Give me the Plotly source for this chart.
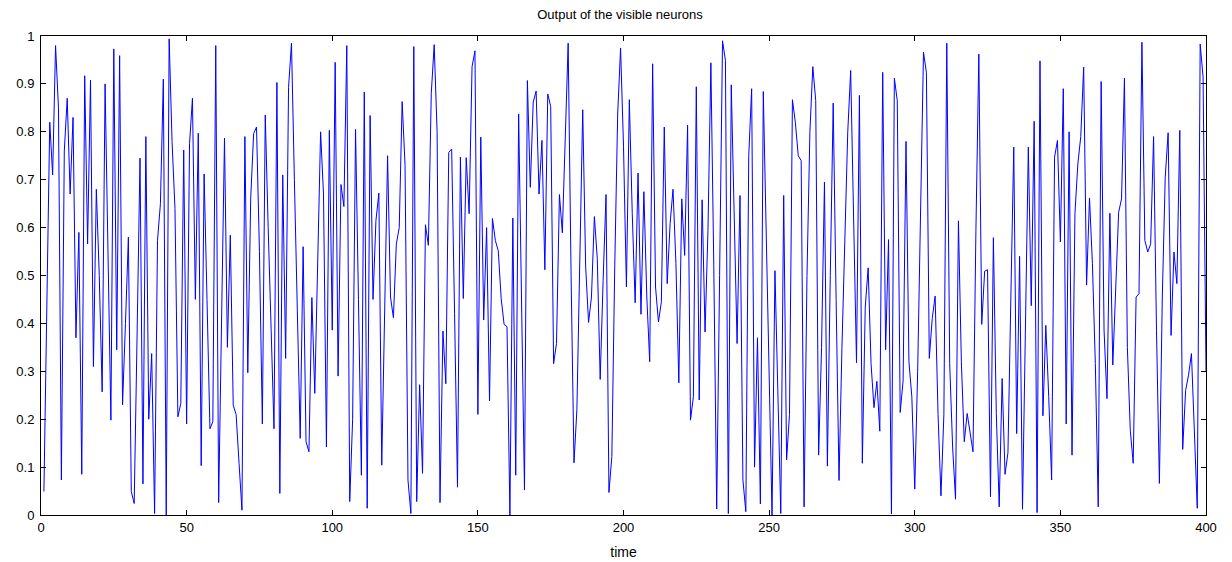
import plotly.graph_objects as go

values_1_50 = [0.049, 0.45, 0.82, 0.71, 0.98, 0.85, 0.073, 0.76, 0.87, 0.67,
               0.83, 0.37, 0.59, 0.085, 0.917, 0.566, 0.908, 0.31, 0.68, 0.5,
               0.257, 0.90, 0.55, 0.198, 0.973, 0.345, 0.959, 0.23, 0.4, 0.58,
               0.049, 0.024, 0.38, 0.745, 0.065, 0.79, 0.2, 0.337, 0.003, 0.573,
               0.65, 0.91, 0.0, 0.994, 0.78, 0.64, 0.205, 0.233, 0.762, 0.19]
values_51_100 = [0.775, 0.87, 0.45, 0.797, 0.103, 0.712, 0.45, 0.18, 0.195, 0.98,
                 0.026, 0.4, 0.787, 0.35, 0.584, 0.229, 0.21, 0.108, 0.01, 0.79,
                 0.297, 0.66, 0.796, 0.81, 0.55, 0.19, 0.835, 0.6, 0.4, 0.18,
                 0.903, 0.045, 0.71, 0.327, 0.893, 0.985, 0.7, 0.45, 0.16, 0.56,
                 0.153, 0.132, 0.454, 0.254, 0.55, 0.8, 0.67, 0.142, 0.803, 0.386]
values_101_150 = [0.945, 0.29, 0.69, 0.644, 0.98, 0.028, 0.2, 0.805, 0.45, 0.083,
                  0.883, 0.014, 0.834, 0.45, 0.615, 0.672, 0.104, 0.45, 0.75, 0.455,
                  0.412, 0.566, 0.6, 0.863, 0.73, 0.073, 0.003, 0.978, 0.028, 0.272,
                  0.087, 0.606, 0.563, 0.88, 0.982, 0.8, 0.026, 0.384, 0.274, 0.757,
                  0.764, 0.42, 0.058, 0.747, 0.452, 0.746, 0.629, 0.936, 0.969, 0.21]
values_151_200 = [0.789, 0.407, 0.6, 0.238, 0.619, 0.573, 0.552, 0.452, 0.398, 0.393,
                  0.0, 0.62, 0.083, 0.837, 0.4, 0.052, 0.907, 0.684, 0.862, 0.885,
                  0.67, 0.782, 0.512, 0.879, 0.853, 0.316, 0.358, 0.669, 0.589, 0.77,
                  0.985, 0.5, 0.109, 0.22, 0.55, 0.846, 0.52, 0.402, 0.455, 0.623,
                  0.535, 0.283, 0.49, 0.669, 0.047, 0.122, 0.52, 0.837, 0.975, 0.77]
values_201_250 = [0.476, 0.867, 0.63, 0.443, 0.714, 0.419, 0.675, 0.455, 0.32, 0.942,
                  0.476, 0.403, 0.445, 0.81, 0.483, 0.608, 0.68, 0.525, 0.276, 0.66,
                  0.542, 0.814, 0.198, 0.247, 0.894, 0.24, 0.658, 0.382, 0.594, 0.944,
                  0.52, 0.0125, 0.5, 0.99, 0.949, 0.003, 0.898, 0.594, 0.358, 0.667,
                  0.073, 0.007, 0.75, 0.89, 0.1, 0.37, 0.023, 0.884, 0.58, 0.28]
values_251_300 = [0.0, 0.51, 0.25, 0.003, 0.667, 0.115, 0.21, 0.867, 0.82, 0.75,
                  0.74, 0.017, 0.5, 0.8, 0.936, 0.865, 0.125, 0.35, 0.695, 0.102,
                  0.5, 0.86, 0.45, 0.072, 0.35, 0.59, 0.8, 0.928, 0.63, 0.318,
                  0.876, 0.108, 0.434, 0.516, 0.316, 0.224, 0.279, 0.175, 0.924, 0.345,
                  0.575, 0.002, 0.912, 0.865, 0.214, 0.28, 0.78, 0.32, 0.247, 0.054]
values_301_350 = [0.3, 0.62, 0.966, 0.924, 0.327, 0.41, 0.457, 0.21, 0.04, 0.21,
                  0.985, 0.316, 0.142, 0.033, 0.614, 0.32, 0.153, 0.212, 0.17, 0.132,
                  0.594, 0.962, 0.398, 0.509, 0.512, 0.038, 0.579, 0.212, 0.017, 0.285,
                  0.085, 0.13, 0.455, 0.768, 0.17, 0.54, 0.012, 0.4, 0.768, 0.437,
                  0.822, 0.005, 0.948, 0.207, 0.396, 0.247, 0.073, 0.747, 0.782, 0.57]
values_351_400 = [0.89, 0.19, 0.8, 0.125, 0.63, 0.733, 0.79, 0.935, 0.48, 0.662,
                  0.525, 0.316, 0.017, 0.905, 0.386, 0.243, 0.63, 0.313, 0.47, 0.632,
                  0.66, 0.912, 0.35, 0.177, 0.108, 0.455, 0.462, 0.987, 0.573, 0.549,
                  0.566, 0.79, 0.386, 0.066, 0.455, 0.705, 0.798, 0.375, 0.549, 0.483,
                  0.803, 0.137, 0.26, 0.292, 0.337, 0.177, 0.014, 0.983, 0.914, 0.3]

output = (values_1_50 + values_51_100 + values_101_150 + values_151_200 +
          values_201_250 + values_251_300 + values_301_350 + values_351_400)
time = list(range(1, len(output) + 1))

x_ticks = [0, 50, 100, 150, 200, 250, 300, 350, 400]
y_ticks = [0, 0.1, 0.2, 0.3, 0.4, 0.5, 0.6, 0.7, 0.8, 0.9, 1]
y_tick_labels = ["0", "0.1", "0.2", "0.3", "0.4", "0.5", "0.6", "0.7", "0.8", "0.9", "1"]

FONT = "Liberation Sans, Arial"

fig = go.Figure()
fig.add_trace(go.Scatter(x=time, y=output, mode="lines",
                         line=dict(color="#0000ff", width=1), showlegend=False,
                         hoverinfo="x+y"))

axis_common = dict(showgrid=False, zeroline=False, showline=True, linecolor="black",
                   linewidth=1, mirror="ticks", ticks="inside", ticklen=5,
                   tickcolor="black", automargin=False,
                   tickfont=dict(family=FONT, size=13, color="black"))

# The page body has an 8px margin, so the figure is drawn 8px in from the top-left.
fig.update_layout(
    width=1224, height=554,
    paper_bgcolor="white", plot_bgcolor="white",
    margin=dict(l=33, r=26, t=28, b=47, autoexpand=False),
    title=dict(text="Output of the visible neurons", x=0.5, xanchor="center",
               y=1 - 6 / 554, yanchor="middle",
               font=dict(family=FONT, size=13, color="black")),
    xaxis=dict(range=[0, 400], tickvals=x_ticks,
               title=dict(text="time", standoff=13,
                          font=dict(family=FONT, size=14, color="black")),
               **axis_common),
    yaxis=dict(range=[0, 1], tickvals=y_ticks, ticktext=y_tick_labels,
               ticklabelstandoff=3, **axis_common),
)

fig.write_html("out.html")
